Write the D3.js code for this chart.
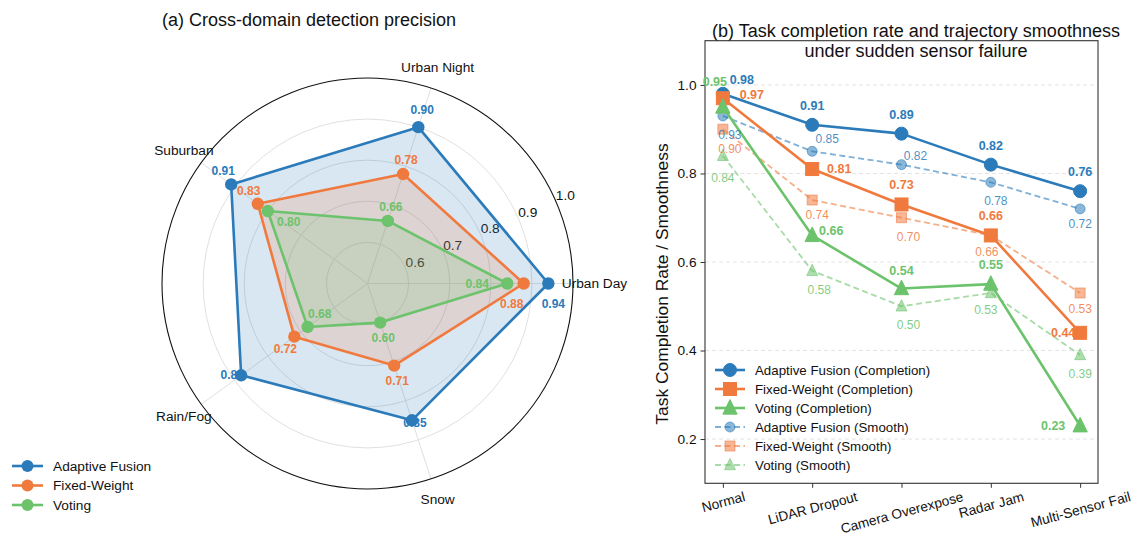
<!DOCTYPE html>
<html>
<head>
<meta charset="utf-8">
<script src="https://cdn.jsdelivr.net/npm/d3@7"></script>
<style>
  html, body { margin: 0; padding: 0; background: #fff; }
  svg { display: block; font-family: "Liberation Sans", Arial, Helvetica, sans-serif; }
</style>
</head>
<body>
<svg id="chart" width="1136" height="535"></svg>
<script>
// ---------------- DATA ----------------
const seriesNames = ["Adaptive Fusion", "Fixed-Weight", "Voting"];
const radarCategories = ["Urban Day", "Urban Night", "Suburban", "Rain/Fog", "Snow"];
const adaptivePrecision = [0.94, 0.90, 0.91, 0.88, 0.85];
const fixedPrecision    = [0.88, 0.78, 0.83, 0.72, 0.71];
const votingPrecision   = [0.84, 0.66, 0.80, 0.68, 0.60];
const radialTicks = [0.6, 0.7, 0.8, 0.9, 1.0];

const scenarios = ["Normal", "LiDAR Dropout", "Camera Overexpose", "Radar Jam", "Multi-Sensor Fail"];
const adaptiveCompletion = [0.98, 0.91, 0.89, 0.82, 0.76];
const fixedCompletion    = [0.97, 0.81, 0.73, 0.66, 0.44];
const votingCompletion   = [0.95, 0.66, 0.54, 0.55, 0.23];
const adaptiveSmooth = [0.93, 0.85, 0.82, 0.78, 0.72];
const fixedSmooth    = [0.90, 0.74, 0.70, 0.66, 0.53];
const votingSmooth   = [0.84, 0.58, 0.50, 0.53, 0.39];
const yTicks = [0.2, 0.4, 0.6, 0.8, 1.0];

// ---------------- STYLE ----------------
const colors = ["#2b7bba", "#f07a3e", "#6cc36c"];
// annotation nudges (pixels) for value labels
const radarLabelNudge = [
  [[5,20],[4,-17],[-8,-13],[-9,0],[3,3]],
  [[-12,20],[3,-14],[-9,-13],[-9,12],[3,15]],
  [[-30,0],[3,-14],[21,11],[12,-13],[3,15]]
];
const complLabelNudge = [
  [[19,-14],[0,-19],[0,-19],[0,-19],[0,-19]],
  [[29,-3],[27,0],[0,-19],[0,-19],[-17,0]],
  [[-8,-25],[19,-4],[0,-18],[0,-19],[-27,0]]
];
const smoothLabelNudge = [
  [[7,19],[15,-12],[14,-9],[5,19],[0,15]],
  [[7,20],[5,15],[7,19],[-4,17],[0,16]],
  [[0,22],[7,19],[7,19],[-5,17],[0,19]]
];

const svg = d3.select("#chart");

// =============== (a) RADAR ===============
const cx = 367.5, cy = 283.5, R = 205.5;
const radarData = [adaptivePrecision, fixedPrecision, votingPrecision];
const r = d3.scaleLinear().domain([0.5, 1.0]).range([0, R]);
const theta = d3.scalePoint().domain(radarCategories).range([0, 2 * Math.PI * 4 / 5]);
const pos = (cat, v) => {
  const t = theta(cat), rr = r(v);
  return [cx + rr * Math.cos(t), cy - rr * Math.sin(t)];
};

const gR = svg.append("g");
gR.append("text").attr("x", 309).attr("y", 26).attr("text-anchor", "middle")
  .attr("font-size", 18).attr("fill", "#111").text("(a) Cross-domain detection precision");

// grid rings
gR.selectAll(".ring").data(radialTicks.filter(d => d < 1)).enter().append("circle")
  .attr("cx", cx).attr("cy", cy).attr("r", d => r(d))
  .attr("fill", "none").attr("stroke", "#e0e0e0").attr("stroke-width", 1);
// spokes
gR.selectAll(".spoke").data(radarCategories).enter().append("line")
  .attr("x1", cx).attr("y1", cy)
  .attr("x2", d => pos(d, 1.0)[0]).attr("y2", d => pos(d, 1.0)[1])
  .attr("stroke", "#e0e0e0").attr("stroke-width", 1);
// outer circle
gR.append("circle").attr("cx", cx).attr("cy", cy).attr("r", r(1.0))
  .attr("fill", "none").attr("stroke", "#111").attr("stroke-width", 1.1);

// radial tick labels
const rlabAngle = 24 * Math.PI / 180;
gR.selectAll(".rlab").data(radialTicks).enter().append("text")
  .attr("x", d => cx + (r(d) + 11) * Math.cos(rlabAngle))
  .attr("y", d => cy - (r(d) + 11) * Math.sin(rlabAngle))
  .attr("text-anchor", "middle").attr("dominant-baseline", "central")
  .attr("font-size", 13.7).attr("fill", "#111").text(d => d.toFixed(1));

// category labels
gR.selectAll(".clab").data(radarCategories).enter().append("text")
  .attr("x", d => cx + (R + 21.5) * Math.cos(theta(d)))
  .attr("y", d => cy - (R + 21.5) * Math.sin(theta(d)))
  .attr("text-anchor", "middle").attr("dominant-baseline", "central")
  .attr("font-size", 13.7).attr("fill", "#111").text(d => d);

const radial = d3.lineRadial()
  .angle((d, i) => Math.PI / 2 - theta(radarCategories[i]))
  .radius(d => r(d))
  .curve(d3.curveLinearClosed);

const plotG = gR.append("g").attr("transform", `translate(${cx},${cy})`);
radarData.forEach((vals, s) => {
  plotG.append("path").attr("d", radial(vals))
    .attr("fill", colors[s]).attr("fill-opacity", 0.18).attr("stroke", "none");
});
// value labels
radarData.forEach((vals, s) => {
  vals.forEach((v, i) => {
    const p = pos(radarCategories[i], v);
    gR.append("text")
      .attr("x", p[0] + radarLabelNudge[s][i][0]).attr("y", p[1] + radarLabelNudge[s][i][1])
      .attr("text-anchor", "middle").attr("dominant-baseline", "central")
      .attr("font-size", 12).attr("font-weight", "bold").attr("fill", colors[s])
      .text(v.toFixed(2));
  });
});
radarData.forEach((vals, s) => {
  plotG.append("path").attr("d", radial(vals))
    .attr("fill", "none").attr("stroke", colors[s]).attr("stroke-width", 2.6)
    .attr("stroke-linejoin", "round");
  vals.forEach((v, i) => {
    const p = pos(radarCategories[i], v);
    gR.append("circle").attr("cx", p[0]).attr("cy", p[1]).attr("r", 6.2).attr("fill", colors[s]);
  });
});

// left legend
const legA = svg.append("g");
seriesNames.forEach((n, i) => {
  const ly = 466 + i * 19.5;
  legA.append("line").attr("x1", 12).attr("x2", 43).attr("y1", ly).attr("y2", ly)
    .attr("stroke", colors[i]).attr("stroke-width", 2.6);
  legA.append("circle").attr("cx", 27.5).attr("cy", ly).attr("r", 6).attr("fill", colors[i]);
  legA.append("text").attr("x", 53).attr("y", ly).attr("dominant-baseline", "central")
    .attr("font-size", 13.7).attr("fill", "#111").text(n);
});

// =============== (b) LINES ===============
const pLeft = 705, pRight = 1098, pTop = 40.7, pBottom = 483.3;
const x = d3.scalePoint().domain(scenarios).range([pLeft, pRight]).padding(0.2);
const y = d3.scaleLinear().domain([0.1, 1.1]).range([pBottom, pTop]);

const gL = svg.append("g");
gL.append("text").attr("x", 916).attr("y", 37).attr("text-anchor", "middle")
  .attr("font-size", 18).attr("fill", "#111").text("(b) Task completion rate and trajectory smoothness");
gL.append("text").attr("x", 916).attr("y", 57).attr("text-anchor", "middle")
  .attr("font-size", 18).attr("fill", "#111").text("under sudden sensor failure");

// grid
gL.selectAll(".hg").data(yTicks).enter().append("line")
  .attr("x1", pLeft).attr("x2", pRight).attr("y1", d => y(d)).attr("y2", d => y(d))
  .attr("stroke", "#dcdcdc").attr("stroke-width", 0.8).attr("stroke-dasharray", "4,3");

// axes
const yAxis = d3.axisLeft(y).tickValues(yTicks).tickFormat(d3.format(".1f")).tickSize(4.5).tickPadding(4);
const yG = gL.append("g").attr("transform", `translate(${pLeft},0)`).call(yAxis);
const xAxis = d3.axisBottom(x).tickSize(4.5).tickPadding(6);
const xG = gL.append("g").attr("transform", `translate(0,${pBottom})`).call(xAxis);
[yG, xG].forEach(g => {
  g.select(".domain").remove();
  g.selectAll("line").attr("stroke", "#333").attr("stroke-width", 1);
  g.selectAll("text").attr("font-size", 13.7).attr("fill", "#111")
    .attr("font-family", "Liberation Sans, Arial, sans-serif");
});
// rotated tick labels: bounding-box top aligned just below the ticks
const sin15 = Math.sin(15 * Math.PI / 180), cos15 = Math.cos(15 * Math.PI / 180);
xG.selectAll("text")
  .attr("text-anchor", "middle").attr("dy", null).attr("y", null)
  .attr("dominant-baseline", "central")
  .attr("transform", function() {
    const w = this.getComputedTextLength();
    const h = 13.7 * 1.0;
    const off = 6.5 + (w * sin15 + h * cos15) / 2;
    return `translate(0,${off}) rotate(-15)`;
  });

gL.append("rect").attr("x", pLeft).attr("y", pTop).attr("width", pRight - pLeft).attr("height", pBottom - pTop)
  .attr("fill", "none").attr("stroke", "#333").attr("stroke-width", 1.1);

gL.append("text").attr("transform", `translate(662,${(pTop + pBottom) / 2 + 22}) rotate(-90)`)
  .attr("text-anchor", "middle").attr("dominant-baseline", "central")
  .attr("font-size", 17.4).attr("fill", "#111").text("Task Completion Rate / Smoothness");

const complData = [adaptiveCompletion, fixedCompletion, votingCompletion];
const smoothData = [adaptiveSmooth, fixedSmooth, votingSmooth];
const line = d3.line().x((d, i) => x(scenarios[i])).y(d => y(d));

function marker(g, shape, px, py, size, color, opacity) {
  if (shape === 0) {
    g.append("circle").attr("cx", px).attr("cy", py).attr("r", size / 2)
      .attr("fill", color).attr("fill-opacity", opacity).attr("stroke", color).attr("stroke-opacity", opacity).attr("stroke-width", 1);
  } else if (shape === 1) {
    g.append("rect").attr("x", px - size / 2).attr("y", py - size / 2).attr("width", size).attr("height", size)
      .attr("fill", color).attr("fill-opacity", opacity).attr("stroke", color).attr("stroke-opacity", opacity).attr("stroke-width", 1);
  } else {
    const h = size * 1.05, w = size * 1.1;
    g.append("path").attr("d", `M${px},${py - h * 0.62} L${px + w / 2},${py + h * 0.45} L${px - w / 2},${py + h * 0.45} Z`)
      .attr("fill", color).attr("fill-opacity", opacity).attr("stroke", color).attr("stroke-opacity", opacity).attr("stroke-width", 1);
  }
}

// smooth series (dashed)
smoothData.forEach((vals, s) => {
  gL.append("path").attr("d", line(vals)).attr("fill", "none")
    .attr("stroke", colors[s]).attr("stroke-opacity", 0.6).attr("stroke-width", 1.8)
    .attr("stroke-dasharray", "6,3.5");
  vals.forEach((v, i) => marker(gL, s, x(scenarios[i]), y(v), 10, colors[s], 0.55));
});
// completion series
complData.forEach((vals, s) => {
  gL.append("path").attr("d", line(vals)).attr("fill", "none")
    .attr("stroke", colors[s]).attr("stroke-width", 2.6).attr("stroke-linejoin", "round");
  vals.forEach((v, i) => marker(gL, s, x(scenarios[i]), y(v), 13, colors[s], 1));
});
// labels
smoothData.forEach((vals, s) => {
  vals.forEach((v, i) => {
    gL.append("text").attr("x", x(scenarios[i]) + smoothLabelNudge[s][i][0]).attr("y", y(v) + smoothLabelNudge[s][i][1])
      .attr("text-anchor", "middle").attr("dominant-baseline", "central")
      .attr("font-size", 12).attr("fill", colors[s]).attr("fill-opacity", 0.85).text(v.toFixed(2));
  });
});
complData.forEach((vals, s) => {
  vals.forEach((v, i) => {
    gL.append("text").attr("x", x(scenarios[i]) + complLabelNudge[s][i][0]).attr("y", y(v) + complLabelNudge[s][i][1])
      .attr("text-anchor", "middle").attr("dominant-baseline", "central")
      .attr("font-size", 12.5).attr("font-weight", "bold").attr("fill", colors[s]).text(v.toFixed(2));
  });
});

// right legend
const legNames = [
  ["Adaptive Fusion (Completion)", 0, false],
  ["Fixed-Weight (Completion)", 1, false],
  ["Voting (Completion)", 2, false],
  ["Adaptive Fusion (Smooth)", 0, true],
  ["Fixed-Weight (Smooth)", 1, true],
  ["Voting (Smooth)", 2, true]
];
const legB = svg.append("g");
legNames.forEach((d, i) => {
  const ly = 370 + i * 19;
  const c = colors[d[1]];
  legB.append("line").attr("x1", 715).attr("x2", 745).attr("y1", ly).attr("y2", ly)
    .attr("stroke", c).attr("stroke-width", d[2] ? 1.8 : 2.6)
    .attr("stroke-opacity", d[2] ? 0.6 : 1)
    .attr("stroke-dasharray", d[2] ? "6,3.5" : null);
  marker(legB, d[1], 730, ly, d[2] ? 10 : 13, c, d[2] ? 0.55 : 1);
  legB.append("text").attr("x", 755).attr("y", ly).attr("dominant-baseline", "central")
    .attr("font-size", 13.3).attr("fill", "#111").text(d[0]);
});
</script>
</body>
</html>
